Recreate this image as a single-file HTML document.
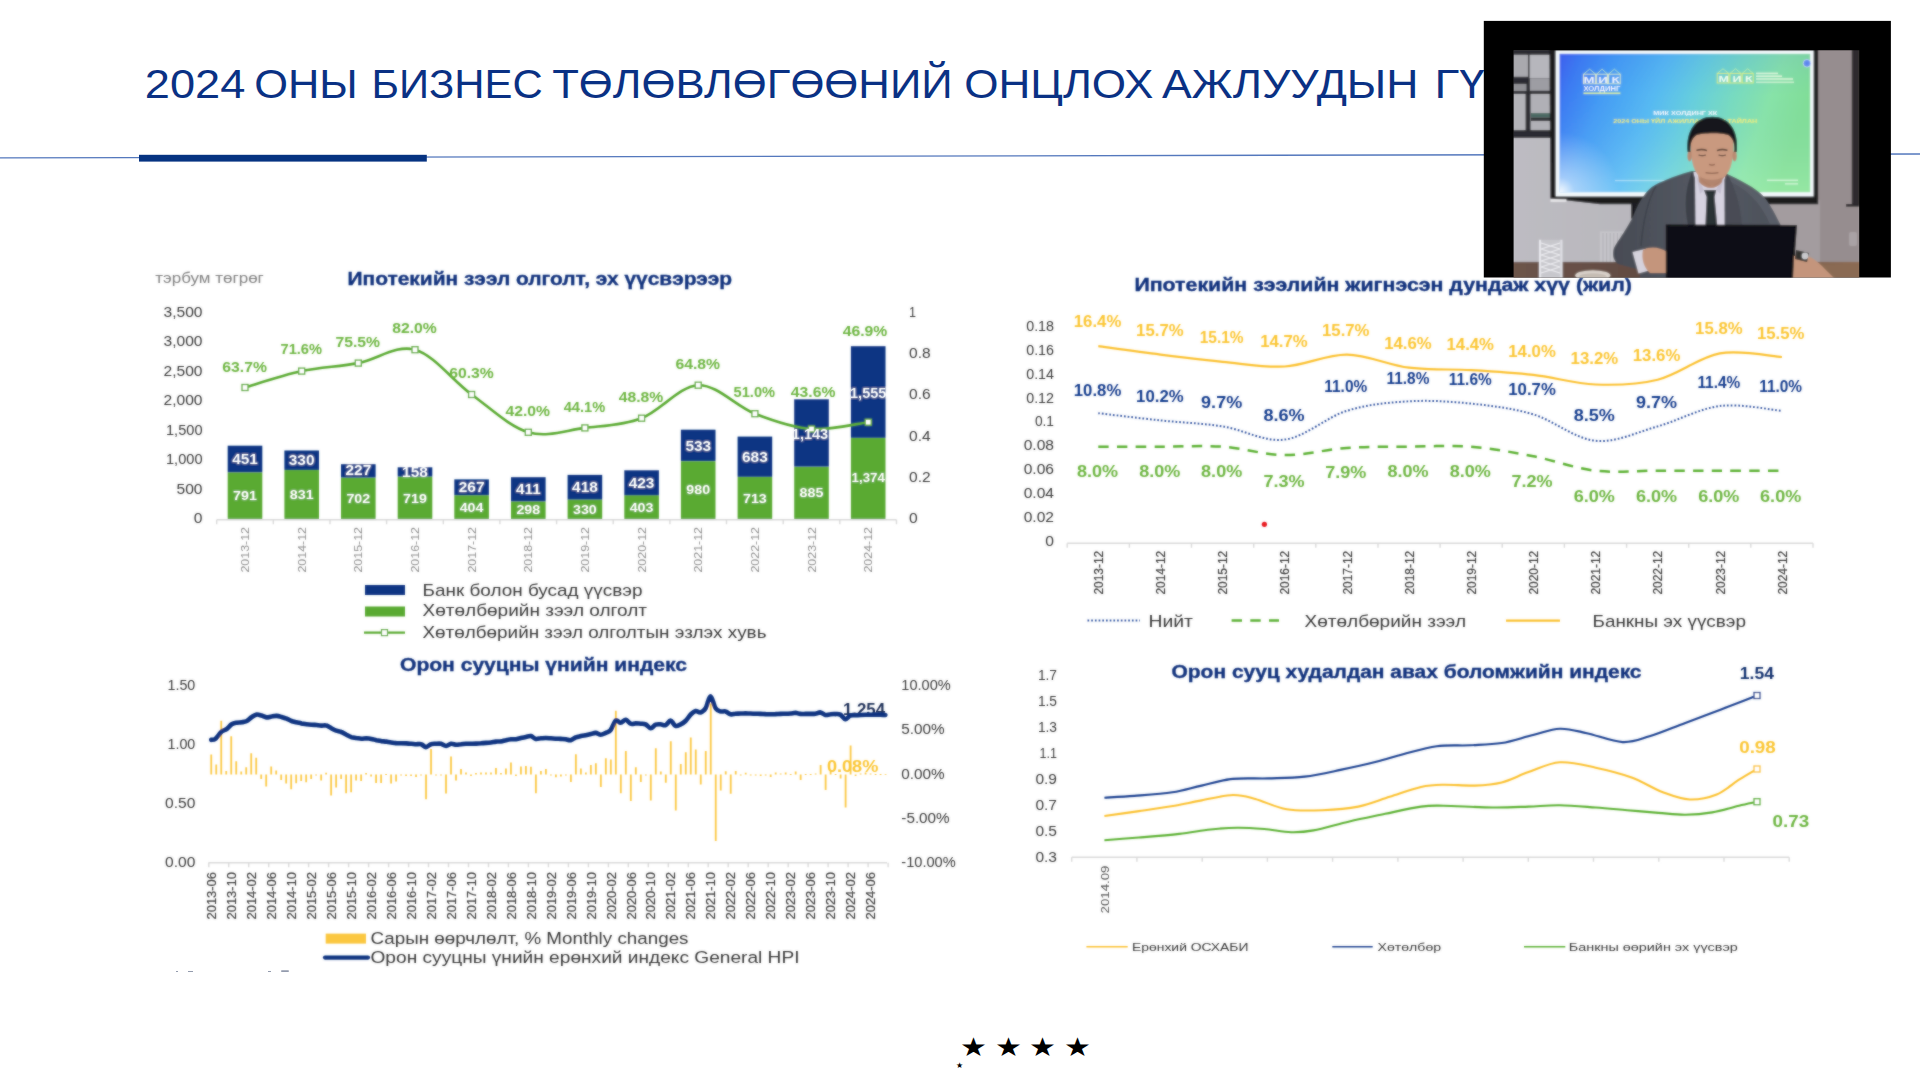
<!DOCTYPE html><html lang="mn"><head><meta charset="utf-8"><title>2024 оны бизнес төлөвлөгөө</title>
<style>html,body{margin:0;padding:0;background:#fff;overflow:hidden}svg{display:block}text{font-family:"Liberation Sans",sans-serif}</style></head><body>
<svg width="1920" height="1080" viewBox="0 0 1920 1080">
<rect width="1920" height="1080" fill="#fff"/>
<text y="97.5" font-size="40.5" fill="#0a3184"><tspan x="144.8" textLength="100.5" lengthAdjust="spacingAndGlyphs">2024</tspan> <tspan x="254.2" textLength="103.5" lengthAdjust="spacingAndGlyphs">ОНЫ</tspan> <tspan x="371.5" textLength="171.2" lengthAdjust="spacingAndGlyphs">БИЗНЕС</tspan> <tspan x="552.2" textLength="400.5" lengthAdjust="spacingAndGlyphs">ТӨЛӨВЛӨГӨӨНИЙ</tspan> <tspan x="964.3" textLength="189.2" lengthAdjust="spacingAndGlyphs">ОНЦЛОХ</tspan> <tspan x="1161.9" textLength="256.6" lengthAdjust="spacingAndGlyphs">АЖЛУУДЫН</tspan> <tspan x="1434.5" textLength="264.0" lengthAdjust="spacingAndGlyphs">ГҮЙЦЭТГЭЛ</tspan></text>
<path d="M0 157.9 L1920 154" stroke="#5478bd" stroke-width="1.4" fill="none"/>
<rect x="139" y="154.8" width="287.8" height="6.8" fill="#063381"/>
<text x="960.1" y="1056.3" font-size="26.4" fill="#000" text-anchor="start" font-family='"DejaVu Sans", sans-serif' textLength="26.6" lengthAdjust="spacingAndGlyphs" >★</text>
<text x="995.1" y="1056.3" font-size="26.4" fill="#000" text-anchor="start" font-family='"DejaVu Sans", sans-serif' textLength="26.6" lengthAdjust="spacingAndGlyphs" >★</text>
<text x="1029.4" y="1056.3" font-size="26.4" fill="#000" text-anchor="start" font-family='"DejaVu Sans", sans-serif' textLength="26.6" lengthAdjust="spacingAndGlyphs" >★</text>
<text x="1064.4" y="1056.3" font-size="26.4" fill="#000" text-anchor="start" font-family='"DejaVu Sans", sans-serif' textLength="26.6" lengthAdjust="spacingAndGlyphs" >★</text>
<text x="959.7" y="1068.2" font-size="7.6" fill="#000" text-anchor="middle" font-family='"DejaVu Sans", sans-serif' >★</text>
<g fill="#3b4a6b" opacity="0.55"><rect x="176" y="971" width="2" height="1"/><rect x="188" y="971" width="5" height="1"/><rect x="268" y="971" width="3" height="1"/><rect x="281" y="970.2" width="8" height="1.8" rx="0.9"/></g>
<defs><filter id="soft" filterUnits="userSpaceOnUse" x="0" y="240" width="1920" height="760"><feGaussianBlur stdDeviation="0.9" result="b"/><feComposite in="b" in2="SourceGraphic" operator="arithmetic" k1="0" k2="0.55" k3="0.45" k4="0"/></filter></defs><g filter="url(#soft)">
<text x="155.3" y="282.9" font-size="14.5" fill="#7f7f7f" text-anchor="start" textLength="108.5" lengthAdjust="spacingAndGlyphs" >тэрбум төгрөг</text>
<text x="347.6" y="284.6" font-size="17.6" fill="#10307c" text-anchor="start" font-weight="bold" font-family='"DejaVu Sans", "Liberation Sans", sans-serif' textLength="384.5" lengthAdjust="spacingAndGlyphs" stroke="#10307c" stroke-width="0.35">Ипотекийн зээл олголт, эх үүсвэрээр</text>
<text x="193.8" y="523.2" font-size="13.9" fill="#363636" text-anchor="start" textLength="8.7" lengthAdjust="spacingAndGlyphs" >0</text>
<text x="176.5" y="493.7" font-size="13.9" fill="#363636" text-anchor="start" textLength="26.0" lengthAdjust="spacingAndGlyphs" >500</text>
<text x="166.0" y="464.2" font-size="13.9" fill="#363636" text-anchor="start" textLength="36.5" lengthAdjust="spacingAndGlyphs" >1,000</text>
<text x="166.0" y="434.7" font-size="13.9" fill="#363636" text-anchor="start" textLength="36.5" lengthAdjust="spacingAndGlyphs" >1,500</text>
<text x="163.5" y="405.2" font-size="13.9" fill="#363636" text-anchor="start" textLength="39.0" lengthAdjust="spacingAndGlyphs" >2,000</text>
<text x="163.5" y="375.7" font-size="13.9" fill="#363636" text-anchor="start" textLength="39.0" lengthAdjust="spacingAndGlyphs" >2,500</text>
<text x="163.5" y="346.2" font-size="13.9" fill="#363636" text-anchor="start" textLength="39.0" lengthAdjust="spacingAndGlyphs" >3,000</text>
<text x="163.5" y="316.7" font-size="13.9" fill="#363636" text-anchor="start" textLength="39.0" lengthAdjust="spacingAndGlyphs" >3,500</text>
<text x="909.0" y="523.2" font-size="13.9" fill="#363636" text-anchor="start" textLength="8.7" lengthAdjust="spacingAndGlyphs" >0</text>
<text x="909.0" y="481.9" font-size="13.9" fill="#363636" text-anchor="start" textLength="21.6" lengthAdjust="spacingAndGlyphs" >0.2</text>
<text x="909.0" y="440.6" font-size="13.9" fill="#363636" text-anchor="start" textLength="21.6" lengthAdjust="spacingAndGlyphs" >0.4</text>
<text x="909.0" y="399.3" font-size="13.9" fill="#363636" text-anchor="start" textLength="21.6" lengthAdjust="spacingAndGlyphs" >0.6</text>
<text x="909.0" y="358.0" font-size="13.9" fill="#363636" text-anchor="start" textLength="21.6" lengthAdjust="spacingAndGlyphs" >0.8</text>
<text x="909.0" y="316.7" font-size="13.9" fill="#363636" text-anchor="start" textLength="7.0" lengthAdjust="spacingAndGlyphs" >1</text>
<path d="M216.7 519.8H896.5" stroke="#d9d9d9" stroke-width="1.6"/>
<path d="M216.7 519.8v4.5M273.3 519.8v4.5M330.0 519.8v4.5M386.6 519.8v4.5M443.3 519.8v4.5M499.9 519.8v4.5M556.6 519.8v4.5M613.2 519.8v4.5M669.9 519.8v4.5M726.5 519.8v4.5M783.2 519.8v4.5M839.8 519.8v4.5M896.5 519.8v4.5" stroke="#d9d9d9" stroke-width="1.4" fill="none"/>
<rect x="227.7" y="472.3" width="34.6" height="46.7" fill="#5aaa32"/>
<rect x="227.7" y="445.7" width="34.6" height="26.6" fill="#0b3583"/>
<rect x="284.4" y="470.0" width="34.6" height="49.0" fill="#5aaa32"/>
<rect x="284.4" y="450.5" width="34.6" height="19.5" fill="#0b3583"/>
<rect x="341.0" y="477.6" width="34.6" height="41.4" fill="#5aaa32"/>
<rect x="341.0" y="464.2" width="34.6" height="13.4" fill="#0b3583"/>
<rect x="397.7" y="476.6" width="34.6" height="42.4" fill="#5aaa32"/>
<rect x="397.7" y="467.3" width="34.6" height="9.3" fill="#0b3583"/>
<rect x="454.3" y="495.2" width="34.6" height="23.8" fill="#5aaa32"/>
<rect x="454.3" y="479.4" width="34.6" height="15.8" fill="#0b3583"/>
<rect x="511.0" y="501.4" width="34.6" height="17.6" fill="#5aaa32"/>
<rect x="511.0" y="477.2" width="34.6" height="24.2" fill="#0b3583"/>
<rect x="567.6" y="499.5" width="34.6" height="19.5" fill="#5aaa32"/>
<rect x="567.6" y="474.9" width="34.6" height="24.7" fill="#0b3583"/>
<rect x="624.3" y="495.2" width="34.6" height="23.8" fill="#5aaa32"/>
<rect x="624.3" y="470.3" width="34.6" height="25.0" fill="#0b3583"/>
<rect x="680.9" y="461.2" width="34.6" height="57.8" fill="#5aaa32"/>
<rect x="680.9" y="429.7" width="34.6" height="31.4" fill="#0b3583"/>
<rect x="737.6" y="476.9" width="34.6" height="42.1" fill="#5aaa32"/>
<rect x="737.6" y="436.6" width="34.6" height="40.3" fill="#0b3583"/>
<rect x="794.2" y="466.8" width="34.6" height="52.2" fill="#5aaa32"/>
<rect x="794.2" y="399.3" width="34.6" height="67.4" fill="#0b3583"/>
<rect x="850.9" y="437.9" width="34.6" height="81.1" fill="#5aaa32"/>
<rect x="850.9" y="346.2" width="34.6" height="91.7" fill="#0b3583"/>
<path d="M245.0 387.5C254.5 384.7 282.8 375.2 301.7 371.1C320.6 367.1 339.4 366.7 358.3 363.1C377.2 359.5 396.1 344.4 415.0 349.7C433.9 354.9 452.7 380.7 471.6 394.5C490.5 408.2 509.4 426.7 528.3 432.3C547.2 437.8 566.0 430.3 584.9 427.9C603.8 425.6 622.7 425.4 641.6 418.2C660.5 411.1 679.3 385.9 698.2 385.2C717.1 384.4 736.0 406.4 754.9 413.7C773.8 421.0 792.6 427.6 811.5 429.0C830.4 430.4 858.7 423.3 868.2 422.2" stroke="#5aaa32" stroke-width="2.6" fill="none" stroke-linecap="round"/>
<rect x="242.0" y="384.5" width="6" height="6" fill="#fff" stroke="#5aaa32" stroke-width="1.3"/>
<rect x="298.7" y="368.1" width="6" height="6" fill="#fff" stroke="#5aaa32" stroke-width="1.3"/>
<rect x="355.3" y="360.1" width="6" height="6" fill="#fff" stroke="#5aaa32" stroke-width="1.3"/>
<rect x="412.0" y="346.7" width="6" height="6" fill="#fff" stroke="#5aaa32" stroke-width="1.3"/>
<rect x="468.6" y="391.5" width="6" height="6" fill="#fff" stroke="#5aaa32" stroke-width="1.3"/>
<rect x="525.3" y="429.3" width="6" height="6" fill="#fff" stroke="#5aaa32" stroke-width="1.3"/>
<rect x="581.9" y="424.9" width="6" height="6" fill="#fff" stroke="#5aaa32" stroke-width="1.3"/>
<rect x="638.6" y="415.2" width="6" height="6" fill="#fff" stroke="#5aaa32" stroke-width="1.3"/>
<rect x="695.2" y="382.2" width="6" height="6" fill="#fff" stroke="#5aaa32" stroke-width="1.3"/>
<rect x="751.9" y="410.7" width="6" height="6" fill="#fff" stroke="#5aaa32" stroke-width="1.3"/>
<rect x="808.5" y="426.0" width="6" height="6" fill="#fff" stroke="#5aaa32" stroke-width="1.3"/>
<rect x="865.2" y="419.2" width="6" height="6" fill="#fff" stroke="#5aaa32" stroke-width="1.3"/>
<text x="233.1" y="499.9" font-size="12.3" fill="#fff" text-anchor="start" font-weight="bold" textLength="23.8" lengthAdjust="spacingAndGlyphs" >791</text>
<text x="232.2" y="464.2" font-size="14" fill="#fff" text-anchor="start" font-weight="bold" textLength="25.7" lengthAdjust="spacingAndGlyphs" >451</text>
<text x="222.3" y="371.7" font-size="14.3" fill="#6cb53f" text-anchor="start" font-weight="bold" textLength="44.6" lengthAdjust="spacingAndGlyphs" >63.7%</text>
<text transform="translate(249.0 549.8) rotate(-90)" x="-22.8" y="0" font-size="11.3" fill="#8c8c8c" textLength="45.6" lengthAdjust="spacingAndGlyphs" >2013-12</text>
<text x="289.8" y="498.6" font-size="12.3" fill="#fff" text-anchor="start" font-weight="bold" textLength="23.8" lengthAdjust="spacingAndGlyphs" >831</text>
<text x="288.8" y="465.4" font-size="14" fill="#fff" text-anchor="start" font-weight="bold" textLength="25.7" lengthAdjust="spacingAndGlyphs" >330</text>
<text x="280.5" y="354.4" font-size="14.3" fill="#6cb53f" text-anchor="start" font-weight="bold" textLength="41.5" lengthAdjust="spacingAndGlyphs" >71.6%</text>
<text transform="translate(305.7 549.8) rotate(-90)" x="-22.8" y="0" font-size="11.3" fill="#8c8c8c" textLength="45.6" lengthAdjust="spacingAndGlyphs" >2014-12</text>
<text x="346.4" y="502.9" font-size="12.3" fill="#fff" text-anchor="start" font-weight="bold" textLength="23.8" lengthAdjust="spacingAndGlyphs" >702</text>
<text x="345.5" y="475.4" font-size="14" fill="#fff" text-anchor="start" font-weight="bold" textLength="25.7" lengthAdjust="spacingAndGlyphs" >227</text>
<text x="335.5" y="347.1" font-size="14.3" fill="#6cb53f" text-anchor="start" font-weight="bold" textLength="44.6" lengthAdjust="spacingAndGlyphs" >75.5%</text>
<text transform="translate(362.3 549.8) rotate(-90)" x="-22.8" y="0" font-size="11.3" fill="#8c8c8c" textLength="45.6" lengthAdjust="spacingAndGlyphs" >2015-12</text>
<text x="403.1" y="502.5" font-size="12.3" fill="#fff" text-anchor="start" font-weight="bold" textLength="23.8" lengthAdjust="spacingAndGlyphs" >719</text>
<text x="402.1" y="476.7" font-size="14" fill="#fff" text-anchor="start" font-weight="bold" textLength="25.7" lengthAdjust="spacingAndGlyphs" >158</text>
<text x="392.2" y="332.8" font-size="14.3" fill="#6cb53f" text-anchor="start" font-weight="bold" textLength="44.6" lengthAdjust="spacingAndGlyphs" >82.0%</text>
<text transform="translate(419.0 549.8) rotate(-90)" x="-22.8" y="0" font-size="11.3" fill="#8c8c8c" textLength="45.6" lengthAdjust="spacingAndGlyphs" >2016-12</text>
<text x="459.7" y="511.5" font-size="12.3" fill="#fff" text-anchor="start" font-weight="bold" textLength="23.8" lengthAdjust="spacingAndGlyphs" >404</text>
<text x="458.8" y="492.3" font-size="14" fill="#fff" text-anchor="start" font-weight="bold" textLength="25.7" lengthAdjust="spacingAndGlyphs" >267</text>
<text x="449.2" y="377.8" font-size="14.3" fill="#6cb53f" text-anchor="start" font-weight="bold" textLength="44.6" lengthAdjust="spacingAndGlyphs" >60.3%</text>
<text transform="translate(475.6 549.8) rotate(-90)" x="-22.8" y="0" font-size="11.3" fill="#8c8c8c" textLength="45.6" lengthAdjust="spacingAndGlyphs" >2017-12</text>
<text x="516.4" y="513.7" font-size="12.3" fill="#fff" text-anchor="start" font-weight="bold" textLength="23.8" lengthAdjust="spacingAndGlyphs" >298</text>
<text x="515.9" y="493.6" font-size="14" fill="#fff" text-anchor="start" font-weight="bold" textLength="24.8" lengthAdjust="spacingAndGlyphs" >411</text>
<text x="505.5" y="416.3" font-size="14.3" fill="#6cb53f" text-anchor="start" font-weight="bold" textLength="44.6" lengthAdjust="spacingAndGlyphs" >42.0%</text>
<text transform="translate(532.3 549.8) rotate(-90)" x="-22.8" y="0" font-size="11.3" fill="#8c8c8c" textLength="45.6" lengthAdjust="spacingAndGlyphs" >2018-12</text>
<text x="573.0" y="513.7" font-size="12.3" fill="#fff" text-anchor="start" font-weight="bold" textLength="23.8" lengthAdjust="spacingAndGlyphs" >330</text>
<text x="572.1" y="492.3" font-size="14" fill="#fff" text-anchor="start" font-weight="bold" textLength="25.7" lengthAdjust="spacingAndGlyphs" >418</text>
<text x="563.7" y="411.9" font-size="14.3" fill="#6cb53f" text-anchor="start" font-weight="bold" textLength="41.5" lengthAdjust="spacingAndGlyphs" >44.1%</text>
<text transform="translate(588.9 549.8) rotate(-90)" x="-22.8" y="0" font-size="11.3" fill="#8c8c8c" textLength="45.6" lengthAdjust="spacingAndGlyphs" >2019-12</text>
<text x="629.7" y="511.5" font-size="12.3" fill="#fff" text-anchor="start" font-weight="bold" textLength="23.8" lengthAdjust="spacingAndGlyphs" >403</text>
<text x="628.7" y="488.4" font-size="14" fill="#fff" text-anchor="start" font-weight="bold" textLength="25.7" lengthAdjust="spacingAndGlyphs" >423</text>
<text x="618.7" y="402.0" font-size="14.3" fill="#6cb53f" text-anchor="start" font-weight="bold" textLength="44.6" lengthAdjust="spacingAndGlyphs" >48.8%</text>
<text transform="translate(645.6 549.8) rotate(-90)" x="-22.8" y="0" font-size="11.3" fill="#8c8c8c" textLength="45.6" lengthAdjust="spacingAndGlyphs" >2020-12</text>
<text x="686.3" y="493.8" font-size="12.3" fill="#fff" text-anchor="start" font-weight="bold" textLength="23.8" lengthAdjust="spacingAndGlyphs" >980</text>
<text x="685.4" y="450.8" font-size="14" fill="#fff" text-anchor="start" font-weight="bold" textLength="25.7" lengthAdjust="spacingAndGlyphs" >533</text>
<text x="675.4" y="368.7" font-size="14.3" fill="#6cb53f" text-anchor="start" font-weight="bold" textLength="44.6" lengthAdjust="spacingAndGlyphs" >64.8%</text>
<text transform="translate(702.2 549.8) rotate(-90)" x="-22.8" y="0" font-size="11.3" fill="#8c8c8c" textLength="45.6" lengthAdjust="spacingAndGlyphs" >2021-12</text>
<text x="743.0" y="502.5" font-size="12.3" fill="#fff" text-anchor="start" font-weight="bold" textLength="23.8" lengthAdjust="spacingAndGlyphs" >713</text>
<text x="742.0" y="462.4" font-size="14" fill="#fff" text-anchor="start" font-weight="bold" textLength="25.7" lengthAdjust="spacingAndGlyphs" >683</text>
<text x="733.6" y="397.2" font-size="14.3" fill="#6cb53f" text-anchor="start" font-weight="bold" textLength="41.5" lengthAdjust="spacingAndGlyphs" >51.0%</text>
<text transform="translate(758.9 549.8) rotate(-90)" x="-22.8" y="0" font-size="11.3" fill="#8c8c8c" textLength="45.6" lengthAdjust="spacingAndGlyphs" >2022-12</text>
<text x="799.6" y="496.8" font-size="12.3" fill="#fff" text-anchor="start" font-weight="bold" textLength="23.8" lengthAdjust="spacingAndGlyphs" >885</text>
<text x="791.8" y="438.6" font-size="14" fill="#fff" text-anchor="start" font-weight="bold" textLength="36.4" lengthAdjust="spacingAndGlyphs" >1,143</text>
<text x="790.8" y="397.2" font-size="14.3" fill="#6cb53f" text-anchor="start" font-weight="bold" textLength="44.6" lengthAdjust="spacingAndGlyphs" >43.6%</text>
<text transform="translate(815.5 549.8) rotate(-90)" x="-22.8" y="0" font-size="11.3" fill="#8c8c8c" textLength="45.6" lengthAdjust="spacingAndGlyphs" >2023-12</text>
<text x="851.6" y="482.1" font-size="12.3" fill="#fff" text-anchor="start" font-weight="bold" textLength="33.2" lengthAdjust="spacingAndGlyphs" >1,374</text>
<text x="850.0" y="397.6" font-size="14" fill="#fff" text-anchor="start" font-weight="bold" textLength="36.4" lengthAdjust="spacingAndGlyphs" >1,555</text>
<text x="842.7" y="336.3" font-size="14.3" fill="#6cb53f" text-anchor="start" font-weight="bold" textLength="44.6" lengthAdjust="spacingAndGlyphs" >46.9%</text>
<text transform="translate(872.2 549.8) rotate(-90)" x="-22.8" y="0" font-size="11.3" fill="#8c8c8c" textLength="45.6" lengthAdjust="spacingAndGlyphs" >2024-12</text>
<rect x="365" y="585" width="40" height="10" fill="#0b3583"/>
<rect x="365" y="606.5" width="40" height="10" fill="#5aaa32"/>
<path d="M364 632.6H405" stroke="#5aaa32" stroke-width="2.4"/><rect x="381.5" y="629.6" width="6" height="6" fill="#fff" stroke="#5aaa32" stroke-width="1.2"/>
<text x="422.5" y="595.8" font-size="16.6" fill="#363636" text-anchor="start" textLength="220.0" lengthAdjust="spacingAndGlyphs" >Банк болон бусад үүсвэр</text>
<text x="422.5" y="616.4" font-size="16.6" fill="#363636" text-anchor="start" textLength="224.5" lengthAdjust="spacingAndGlyphs" >Хөтөлбөрийн зээл олголт</text>
<text x="422.5" y="638.0" font-size="16.6" fill="#363636" text-anchor="start" textLength="344.0" lengthAdjust="spacingAndGlyphs" >Хөтөлбөрийн зээл олголтын эзлэх хувь</text>
<text x="1134.4" y="290.6" font-size="17.6" fill="#10307c" text-anchor="start" font-weight="bold" font-family='"DejaVu Sans", "Liberation Sans", sans-serif' textLength="497.5" lengthAdjust="spacingAndGlyphs" stroke="#10307c" stroke-width="0.35">Ипотекийн зээлийн жигнэсэн дундаж хүү (жил)</text>
<text x="1045.3" y="546.1" font-size="13.9" fill="#363636" text-anchor="start" textLength="8.7" lengthAdjust="spacingAndGlyphs" >0</text>
<text x="1023.7" y="522.2" font-size="13.9" fill="#363636" text-anchor="start" textLength="30.3" lengthAdjust="spacingAndGlyphs" >0.02</text>
<text x="1023.7" y="498.2" font-size="13.9" fill="#363636" text-anchor="start" textLength="30.3" lengthAdjust="spacingAndGlyphs" >0.04</text>
<text x="1023.7" y="474.3" font-size="13.9" fill="#363636" text-anchor="start" textLength="30.3" lengthAdjust="spacingAndGlyphs" >0.06</text>
<text x="1023.7" y="450.3" font-size="13.9" fill="#363636" text-anchor="start" textLength="30.3" lengthAdjust="spacingAndGlyphs" >0.08</text>
<text x="1034.9" y="426.4" font-size="13.9" fill="#363636" text-anchor="start" textLength="19.1" lengthAdjust="spacingAndGlyphs" >0.1</text>
<text x="1026.2" y="402.5" font-size="13.9" fill="#363636" text-anchor="start" textLength="27.8" lengthAdjust="spacingAndGlyphs" >0.12</text>
<text x="1026.2" y="378.5" font-size="13.9" fill="#363636" text-anchor="start" textLength="27.8" lengthAdjust="spacingAndGlyphs" >0.14</text>
<text x="1026.2" y="354.6" font-size="13.9" fill="#363636" text-anchor="start" textLength="27.8" lengthAdjust="spacingAndGlyphs" >0.16</text>
<text x="1026.2" y="330.6" font-size="13.9" fill="#363636" text-anchor="start" textLength="27.8" lengthAdjust="spacingAndGlyphs" >0.18</text>
<path d="M1067.2 543.3H1813.0" stroke="#d9d9d9" stroke-width="1.6"/>
<path d="M1067.2 543.3v4.5M1129.4 543.3v4.5M1191.5 543.3v4.5M1253.7 543.3v4.5M1315.8 543.3v4.5M1378.0 543.3v4.5M1440.1 543.3v4.5M1502.2 543.3v4.5M1564.4 543.3v4.5M1626.6 543.3v4.5M1688.7 543.3v4.5M1750.8 543.3v4.5M1813.0 543.3v4.5" stroke="#d9d9d9" stroke-width="1.4" fill="none"/>
<path d="M1098.3 346.2C1108.6 347.6 1139.7 352.0 1160.4 354.6C1181.1 357.2 1201.9 359.8 1222.6 361.8C1243.3 363.7 1264.0 367.7 1284.7 366.5C1305.4 365.3 1326.2 354.4 1346.9 354.6C1367.6 354.8 1388.3 365.1 1409.0 367.7C1429.7 370.3 1450.5 368.9 1471.2 370.1C1491.9 371.3 1512.6 372.5 1533.3 374.9C1554.0 377.3 1574.8 383.7 1595.5 384.5C1616.2 385.3 1636.9 384.9 1657.6 379.7C1678.3 374.5 1699.1 357.2 1719.8 353.4C1740.5 349.6 1771.6 356.4 1781.9 357.0" stroke="#fbc02d" stroke-width="2.2" fill="none"/>
<path d="M1098.3 413.2C1108.6 414.4 1139.7 418.2 1160.4 420.4C1181.1 422.6 1201.9 423.2 1222.6 426.4C1243.3 429.6 1264.0 442.2 1284.7 439.6C1305.4 437.0 1326.2 417.2 1346.9 410.8C1367.6 404.4 1388.3 402.5 1409.0 401.3C1429.7 400.1 1450.5 401.5 1471.2 403.6C1491.9 405.8 1512.6 408.2 1533.3 414.4C1554.0 420.6 1574.8 438.8 1595.5 440.8C1616.2 442.8 1636.9 432.2 1657.6 426.4C1678.3 420.6 1699.1 408.6 1719.8 406.0C1740.5 403.4 1771.6 410.0 1781.9 410.8" stroke="#2c4f9e" stroke-width="2.0" fill="none" stroke-dasharray="1.7 2.0"/>
<path d="M1098.3 446.7C1108.6 446.7 1139.7 446.7 1160.4 446.7C1181.1 446.7 1201.9 445.3 1222.6 446.7C1243.3 448.1 1264.0 454.9 1284.7 455.1C1305.4 455.3 1326.2 449.3 1346.9 447.9C1367.6 446.5 1388.3 446.9 1409.0 446.7C1429.7 446.5 1450.5 445.1 1471.2 446.7C1491.9 448.3 1512.6 452.3 1533.3 456.3C1554.0 460.3 1574.8 468.3 1595.5 470.7C1616.2 473.1 1636.9 470.7 1657.6 470.7C1678.3 470.7 1699.1 470.7 1719.8 470.7C1740.5 470.7 1771.6 470.7 1781.9 470.7" stroke="#5ab031" stroke-width="2.5" fill="none" stroke-dasharray="10.4 8.3"/>
<text x="1073.8" y="327.3" font-size="16.4" fill="#fbc530" text-anchor="start" font-weight="bold" textLength="47.5" lengthAdjust="spacingAndGlyphs" >16.4%</text>
<text x="1073.8" y="395.8" font-size="16.4" fill="#163a8c" text-anchor="start" font-weight="bold" textLength="47.5" lengthAdjust="spacingAndGlyphs" >10.8%</text>
<text x="1077.0" y="476.9" font-size="16.4" fill="#6cb53f" text-anchor="start" font-weight="bold" textLength="41.1" lengthAdjust="spacingAndGlyphs" >8.0%</text>
<text transform="translate(1103.0 572.7) rotate(-90)" x="-21.9" y="0" font-size="13.2" fill="#363636" textLength="43.8" lengthAdjust="spacingAndGlyphs" stroke="#404040" stroke-width="0.2">2013-12</text>
<text x="1136.1" y="336.2" font-size="16.4" fill="#fbc530" text-anchor="start" font-weight="bold" textLength="47.5" lengthAdjust="spacingAndGlyphs" >15.7%</text>
<text x="1136.1" y="402.1" font-size="16.4" fill="#163a8c" text-anchor="start" font-weight="bold" textLength="47.5" lengthAdjust="spacingAndGlyphs" >10.2%</text>
<text x="1139.3" y="476.9" font-size="16.4" fill="#6cb53f" text-anchor="start" font-weight="bold" textLength="41.1" lengthAdjust="spacingAndGlyphs" >8.0%</text>
<text transform="translate(1165.1 572.7) rotate(-90)" x="-21.9" y="0" font-size="13.2" fill="#363636" textLength="43.8" lengthAdjust="spacingAndGlyphs" stroke="#404040" stroke-width="0.2">2014-12</text>
<text x="1199.7" y="343.4" font-size="16.4" fill="#fbc530" text-anchor="start" font-weight="bold" textLength="43.9" lengthAdjust="spacingAndGlyphs" >15.1%</text>
<text x="1201.1" y="408.3" font-size="16.4" fill="#163a8c" text-anchor="start" font-weight="bold" textLength="41.1" lengthAdjust="spacingAndGlyphs" >9.7%</text>
<text x="1201.1" y="476.9" font-size="16.4" fill="#6cb53f" text-anchor="start" font-weight="bold" textLength="41.1" lengthAdjust="spacingAndGlyphs" >8.0%</text>
<text transform="translate(1227.3 572.7) rotate(-90)" x="-21.9" y="0" font-size="13.2" fill="#363636" textLength="43.8" lengthAdjust="spacingAndGlyphs" stroke="#404040" stroke-width="0.2">2015-12</text>
<text x="1260.2" y="347.4" font-size="16.4" fill="#fbc530" text-anchor="start" font-weight="bold" textLength="47.5" lengthAdjust="spacingAndGlyphs" >14.7%</text>
<text x="1263.4" y="421.3" font-size="16.4" fill="#163a8c" text-anchor="start" font-weight="bold" textLength="41.1" lengthAdjust="spacingAndGlyphs" >8.6%</text>
<text x="1263.4" y="487.2" font-size="16.4" fill="#6cb53f" text-anchor="start" font-weight="bold" textLength="41.1" lengthAdjust="spacingAndGlyphs" >7.3%</text>
<text transform="translate(1289.4 572.7) rotate(-90)" x="-21.9" y="0" font-size="13.2" fill="#363636" textLength="43.8" lengthAdjust="spacingAndGlyphs" stroke="#404040" stroke-width="0.2">2016-12</text>
<text x="1322.0" y="336.2" font-size="16.4" fill="#fbc530" text-anchor="start" font-weight="bold" textLength="47.5" lengthAdjust="spacingAndGlyphs" >15.7%</text>
<text x="1324.3" y="392.2" font-size="16.4" fill="#163a8c" text-anchor="start" font-weight="bold" textLength="42.9" lengthAdjust="spacingAndGlyphs" >11.0%</text>
<text x="1325.2" y="478.2" font-size="16.4" fill="#6cb53f" text-anchor="start" font-weight="bold" textLength="41.1" lengthAdjust="spacingAndGlyphs" >7.9%</text>
<text transform="translate(1351.6 572.7) rotate(-90)" x="-21.9" y="0" font-size="13.2" fill="#363636" textLength="43.8" lengthAdjust="spacingAndGlyphs" stroke="#404040" stroke-width="0.2">2017-12</text>
<text x="1384.2" y="349.2" font-size="16.4" fill="#fbc530" text-anchor="start" font-weight="bold" textLength="47.5" lengthAdjust="spacingAndGlyphs" >14.6%</text>
<text x="1386.5" y="383.7" font-size="16.4" fill="#163a8c" text-anchor="start" font-weight="bold" textLength="42.9" lengthAdjust="spacingAndGlyphs" >11.8%</text>
<text x="1387.4" y="476.9" font-size="16.4" fill="#6cb53f" text-anchor="start" font-weight="bold" textLength="41.1" lengthAdjust="spacingAndGlyphs" >8.0%</text>
<text transform="translate(1413.7 572.7) rotate(-90)" x="-21.9" y="0" font-size="13.2" fill="#363636" textLength="43.8" lengthAdjust="spacingAndGlyphs" stroke="#404040" stroke-width="0.2">2018-12</text>
<text x="1446.5" y="350.1" font-size="16.4" fill="#fbc530" text-anchor="start" font-weight="bold" textLength="47.5" lengthAdjust="spacingAndGlyphs" >14.4%</text>
<text x="1448.8" y="385.0" font-size="16.4" fill="#163a8c" text-anchor="start" font-weight="bold" textLength="42.9" lengthAdjust="spacingAndGlyphs" >11.6%</text>
<text x="1449.7" y="476.9" font-size="16.4" fill="#6cb53f" text-anchor="start" font-weight="bold" textLength="41.1" lengthAdjust="spacingAndGlyphs" >8.0%</text>
<text transform="translate(1475.9 572.7) rotate(-90)" x="-21.9" y="0" font-size="13.2" fill="#363636" textLength="43.8" lengthAdjust="spacingAndGlyphs" stroke="#404040" stroke-width="0.2">2019-12</text>
<text x="1508.3" y="356.8" font-size="16.4" fill="#fbc530" text-anchor="start" font-weight="bold" textLength="47.5" lengthAdjust="spacingAndGlyphs" >14.0%</text>
<text x="1508.3" y="395.3" font-size="16.4" fill="#163a8c" text-anchor="start" font-weight="bold" textLength="47.5" lengthAdjust="spacingAndGlyphs" >10.7%</text>
<text x="1511.5" y="487.2" font-size="16.4" fill="#6cb53f" text-anchor="start" font-weight="bold" textLength="41.1" lengthAdjust="spacingAndGlyphs" >7.2%</text>
<text transform="translate(1538.0 572.7) rotate(-90)" x="-21.9" y="0" font-size="13.2" fill="#363636" textLength="43.8" lengthAdjust="spacingAndGlyphs" stroke="#404040" stroke-width="0.2">2020-12</text>
<text x="1570.6" y="364.4" font-size="16.4" fill="#fbc530" text-anchor="start" font-weight="bold" textLength="47.5" lengthAdjust="spacingAndGlyphs" >13.2%</text>
<text x="1573.8" y="421.3" font-size="16.4" fill="#163a8c" text-anchor="start" font-weight="bold" textLength="41.1" lengthAdjust="spacingAndGlyphs" >8.5%</text>
<text x="1573.8" y="501.5" font-size="16.4" fill="#6cb53f" text-anchor="start" font-weight="bold" textLength="41.1" lengthAdjust="spacingAndGlyphs" >6.0%</text>
<text transform="translate(1600.2 572.7) rotate(-90)" x="-21.9" y="0" font-size="13.2" fill="#363636" textLength="43.8" lengthAdjust="spacingAndGlyphs" stroke="#404040" stroke-width="0.2">2021-12</text>
<text x="1632.8" y="360.9" font-size="16.4" fill="#fbc530" text-anchor="start" font-weight="bold" textLength="47.5" lengthAdjust="spacingAndGlyphs" >13.6%</text>
<text x="1636.0" y="408.3" font-size="16.4" fill="#163a8c" text-anchor="start" font-weight="bold" textLength="41.1" lengthAdjust="spacingAndGlyphs" >9.7%</text>
<text x="1636.0" y="501.5" font-size="16.4" fill="#6cb53f" text-anchor="start" font-weight="bold" textLength="41.1" lengthAdjust="spacingAndGlyphs" >6.0%</text>
<text transform="translate(1662.3 572.7) rotate(-90)" x="-21.9" y="0" font-size="13.2" fill="#363636" textLength="43.8" lengthAdjust="spacingAndGlyphs" stroke="#404040" stroke-width="0.2">2022-12</text>
<text x="1695.1" y="334.4" font-size="16.4" fill="#fbc530" text-anchor="start" font-weight="bold" textLength="47.5" lengthAdjust="spacingAndGlyphs" >15.8%</text>
<text x="1697.4" y="387.7" font-size="16.4" fill="#163a8c" text-anchor="start" font-weight="bold" textLength="42.9" lengthAdjust="spacingAndGlyphs" >11.4%</text>
<text x="1698.3" y="501.5" font-size="16.4" fill="#6cb53f" text-anchor="start" font-weight="bold" textLength="41.1" lengthAdjust="spacingAndGlyphs" >6.0%</text>
<text transform="translate(1724.5 572.7) rotate(-90)" x="-21.9" y="0" font-size="13.2" fill="#363636" textLength="43.8" lengthAdjust="spacingAndGlyphs" stroke="#404040" stroke-width="0.2">2023-12</text>
<text x="1756.9" y="338.5" font-size="16.4" fill="#fbc530" text-anchor="start" font-weight="bold" textLength="47.5" lengthAdjust="spacingAndGlyphs" >15.5%</text>
<text x="1759.2" y="392.2" font-size="16.4" fill="#163a8c" text-anchor="start" font-weight="bold" textLength="42.9" lengthAdjust="spacingAndGlyphs" >11.0%</text>
<text x="1760.1" y="501.5" font-size="16.4" fill="#6cb53f" text-anchor="start" font-weight="bold" textLength="41.1" lengthAdjust="spacingAndGlyphs" >6.0%</text>
<text transform="translate(1786.6 572.7) rotate(-90)" x="-21.9" y="0" font-size="13.2" fill="#363636" textLength="43.8" lengthAdjust="spacingAndGlyphs" stroke="#404040" stroke-width="0.2">2024-12</text>
<circle cx="1264.4" cy="524.3" r="2.6" fill="#e8121c"/>
<path d="M1087.5 620.6H1140" stroke="#2c4f9e" stroke-width="2.0" stroke-dasharray="1.7 2.0"/>
<path d="M1231.6 620.6H1279" stroke="#5ab031" stroke-width="2.5" stroke-dasharray="10.4 8.3"/>
<path d="M1506 620.6H1560" stroke="#fbc02d" stroke-width="2.2"/>
<text x="1148.5" y="626.6" font-size="16.2" fill="#363636" text-anchor="start" textLength="44.5" lengthAdjust="spacingAndGlyphs" >Нийт</text>
<text x="1304.5" y="626.6" font-size="16.2" fill="#363636" text-anchor="start" textLength="161.5" lengthAdjust="spacingAndGlyphs" >Хөтөлбөрийн зээл</text>
<text x="1592.5" y="626.6" font-size="16.2" fill="#363636" text-anchor="start" textLength="153.5" lengthAdjust="spacingAndGlyphs" >Банкны эх үүсвэр</text>
<text x="400.0" y="671.4" font-size="17.6" fill="#10307c" text-anchor="start" font-weight="bold" font-family='"DejaVu Sans", "Liberation Sans", sans-serif' textLength="287.0" lengthAdjust="spacingAndGlyphs" stroke="#10307c" stroke-width="0.35">Орон сууцны үнийн индекс</text>
<text x="165.0" y="867.3" font-size="13.9" fill="#363636" text-anchor="start" textLength="30.3" lengthAdjust="spacingAndGlyphs" >0.00</text>
<text x="165.0" y="808.2" font-size="13.9" fill="#363636" text-anchor="start" textLength="30.3" lengthAdjust="spacingAndGlyphs" >0.50</text>
<text x="167.5" y="749.0" font-size="13.9" fill="#363636" text-anchor="start" textLength="27.8" lengthAdjust="spacingAndGlyphs" >1.00</text>
<text x="167.5" y="689.9" font-size="13.9" fill="#363636" text-anchor="start" textLength="27.8" lengthAdjust="spacingAndGlyphs" >1.50</text>
<text x="901.3" y="867.3" font-size="13.9" fill="#363636" text-anchor="start" textLength="54.4" lengthAdjust="spacingAndGlyphs" >-10.00%</text>
<text x="901.3" y="823.0" font-size="13.9" fill="#363636" text-anchor="start" textLength="48.4" lengthAdjust="spacingAndGlyphs" >-5.00%</text>
<text x="901.3" y="778.6" font-size="13.9" fill="#363636" text-anchor="start" textLength="43.4" lengthAdjust="spacingAndGlyphs" >0.00%</text>
<text x="901.3" y="734.2" font-size="13.9" fill="#363636" text-anchor="start" textLength="43.4" lengthAdjust="spacingAndGlyphs" >5.00%</text>
<text x="901.3" y="689.9" font-size="13.9" fill="#363636" text-anchor="start" textLength="49.4" lengthAdjust="spacingAndGlyphs" >10.00%</text>
<path d="M208.4 862.8H887" stroke="#d9d9d9" stroke-width="1.6"/>
<path d="M208.8 862.8v4.5M228.7 862.8v4.5M248.7 862.8v4.5M268.7 862.8v4.5M288.7 862.8v4.5M308.6 862.8v4.5M328.6 862.8v4.5M348.6 862.8v4.5M368.6 862.8v4.5M388.6 862.8v4.5M408.6 862.8v4.5M428.5 862.8v4.5M448.5 862.8v4.5M468.5 862.8v4.5M488.5 862.8v4.5M508.4 862.8v4.5M528.4 862.8v4.5M548.4 862.8v4.5M568.4 862.8v4.5M588.4 862.8v4.5M608.4 862.8v4.5M628.3 862.8v4.5M648.3 862.8v4.5M668.3 862.8v4.5M688.3 862.8v4.5M708.2 862.8v4.5M728.2 862.8v4.5M748.2 862.8v4.5M768.2 862.8v4.5M788.2 862.8v4.5M808.1 862.8v4.5M828.1 862.8v4.5M848.1 862.8v4.5M868.1 862.8v4.5M888.1 862.8v4.5" stroke="#d9d9d9" stroke-width="1.4" fill="none"/>
<path d="M210.35 754.6h1.8v20.0h-1.8zM215.34 764.6h1.8v10.0h-1.8zM220.34 720.8h1.8v53.8h-1.8zM225.33 771.0h1.8v3.6h-1.8zM230.33 736.3h1.8v38.3h-1.8zM235.32 761.3h1.8v13.3h-1.8zM240.32 771.6h1.8v3.0h-1.8zM245.31 767.3h1.8v7.3h-1.8zM250.31 753.3h1.8v21.3h-1.8zM255.30 757.8h1.8v16.8h-1.8zM260.30 774.6h1.8v4.5h-1.8zM265.29 774.6h1.8v11.8h-1.8zM270.29 766.4h1.8v8.2h-1.8zM275.28 770.6h1.8v4.0h-1.8zM280.28 774.6h1.8v5.5h-1.8zM285.27 774.6h1.8v9.0h-1.8zM290.27 774.6h1.8v14.6h-1.8zM295.26 774.6h1.8v8.7h-1.8zM300.26 774.6h1.8v6.4h-1.8zM305.25 774.6h1.8v7.6h-1.8zM310.25 774.6h1.8v4.5h-1.8zM315.24 774.6h1.8v0.8h-1.8zM320.24 774.6h1.8v5.8h-1.8zM325.23 772.8h1.8v1.8h-1.8zM330.23 774.6h1.8v21.0h-1.8zM335.22 774.6h1.8v13.0h-1.8zM340.22 774.6h1.8v4.5h-1.8zM345.21 774.6h1.8v18.6h-1.8zM350.21 774.6h1.8v17.7h-1.8zM355.20 774.6h1.8v5.8h-1.8zM360.20 774.6h1.8v6.4h-1.8zM365.19 773.1h1.8v1.5h-1.8zM370.19 774.6h1.8v1.8h-1.8zM375.18 774.6h1.8v8.5h-1.8zM380.18 774.6h1.8v8.5h-1.8zM385.17 774.1h1.8v0.8h-1.8zM390.17 774.6h1.8v9.0h-1.8zM395.16 774.6h1.8v7.0h-1.8zM400.16 774.6h1.8v0.8h-1.8zM405.15 774.6h1.8v1.5h-1.8zM410.15 774.6h1.8v1.5h-1.8zM415.14 774.6h1.8v2.5h-1.8zM420.14 774.6h1.8v0.8h-1.8zM425.13 774.6h1.8v24.6h-1.8zM430.13 749.1h1.8v25.5h-1.8zM435.12 774.6h1.8v1.0h-1.8zM440.12 774.6h1.8v1.0h-1.8zM445.11 774.6h1.8v19.0h-1.8zM450.11 756.4h1.8v18.2h-1.8zM455.10 774.6h1.8v5.8h-1.8zM460.10 769.1h1.8v5.5h-1.8zM465.09 772.6h1.8v2.0h-1.8zM470.09 774.6h1.8v1.5h-1.8zM475.08 773.1h1.8v1.5h-1.8zM480.08 772.6h1.8v2.0h-1.8zM485.07 772.6h1.8v2.0h-1.8zM490.07 772.6h1.8v2.0h-1.8zM495.06 767.9h1.8v6.7h-1.8zM500.06 773.1h1.8v1.5h-1.8zM505.05 768.6h1.8v6.0h-1.8zM510.05 762.4h1.8v12.2h-1.8zM515.04 774.6h1.8v1.5h-1.8zM520.04 766.4h1.8v8.2h-1.8zM525.03 765.9h1.8v8.7h-1.8zM530.03 766.8h1.8v7.8h-1.8zM535.02 774.6h1.8v18.6h-1.8zM540.02 771.0h1.8v3.6h-1.8zM545.01 769.1h1.8v5.5h-1.8zM550.01 774.6h1.8v0.8h-1.8zM555.00 774.6h1.8v2.7h-1.8zM560.00 774.6h1.8v2.0h-1.8zM564.99 774.6h1.8v0.8h-1.8zM569.99 774.6h1.8v7.3h-1.8zM574.98 754.2h1.8v20.4h-1.8zM579.98 768.6h1.8v6.0h-1.8zM584.97 772.6h1.8v2.0h-1.8zM589.97 764.9h1.8v9.7h-1.8zM594.96 763.3h1.8v11.3h-1.8zM599.96 774.6h1.8v12.4h-1.8zM604.95 758.2h1.8v16.4h-1.8zM609.95 759.6h1.8v15.0h-1.8zM614.94 710.8h1.8v63.8h-1.8zM619.94 774.6h1.8v18.6h-1.8zM624.93 750.9h1.8v23.7h-1.8zM629.93 774.6h1.8v26.4h-1.8zM634.92 767.3h1.8v7.3h-1.8zM639.92 774.6h1.8v7.3h-1.8zM644.91 774.6h1.8v0.8h-1.8zM649.91 774.6h1.8v25.9h-1.8zM654.90 748.2h1.8v26.4h-1.8zM659.90 771.6h1.8v3.0h-1.8zM664.89 774.6h1.8v8.2h-1.8zM669.89 741.2h1.8v33.4h-1.8zM674.88 774.6h1.8v36.0h-1.8zM679.88 764.0h1.8v10.6h-1.8zM684.87 752.2h1.8v22.4h-1.8zM689.87 737.6h1.8v37.0h-1.8zM694.86 749.4h1.8v25.2h-1.8zM699.86 774.6h1.8v10.0h-1.8zM704.85 750.9h1.8v23.7h-1.8zM709.85 703.6h1.8v71.0h-1.8zM714.84 774.6h1.8v66.5h-1.8zM719.84 774.6h1.8v15.9h-1.8zM724.83 771.3h1.8v3.3h-1.8zM729.83 774.6h1.8v19.1h-1.8zM734.82 771.0h1.8v3.6h-1.8zM739.82 774.6h1.8v0.8h-1.8zM744.81 772.8h1.8v1.8h-1.8zM749.81 774.6h1.8v1.0h-1.8zM754.80 774.6h1.8v1.0h-1.8zM759.80 774.6h1.8v1.5h-1.8zM764.79 774.6h1.8v0.8h-1.8zM769.79 774.6h1.8v2.5h-1.8zM774.78 772.6h1.8v2.0h-1.8zM779.78 773.6h1.8v1.0h-1.8zM784.77 772.6h1.8v2.0h-1.8zM789.77 774.1h1.8v0.8h-1.8zM794.76 771.6h1.8v3.0h-1.8zM799.76 774.6h1.8v5.5h-1.8zM804.75 774.1h1.8v0.8h-1.8zM809.75 774.1h1.8v0.8h-1.8zM814.74 773.6h1.8v1.0h-1.8zM819.74 764.9h1.8v9.7h-1.8zM824.73 774.6h1.8v15.5h-1.8zM829.73 771.0h1.8v3.6h-1.8zM834.72 774.1h1.8v0.8h-1.8zM839.72 774.6h1.8v4.0h-1.8zM844.71 774.6h1.8v32.8h-1.8zM849.71 745.4h1.8v29.2h-1.8zM854.70 774.6h1.8v1.5h-1.8zM859.70 773.6h1.8v1.0h-1.8zM864.69 772.6h1.8v2.0h-1.8zM869.69 773.6h1.8v1.0h-1.8zM874.68 774.1h1.8v0.8h-1.8zM879.68 774.1h1.8v0.8h-1.8zM884.67 773.9h1.8v0.8h-1.8z" fill="#fbc740"/>
<text x="842.9" y="715.0" font-size="15.6" fill="#1b2c55" text-anchor="start" font-weight="bold" textLength="42.2" lengthAdjust="spacingAndGlyphs" >1.254</text>
<path d="M211.3 739.8C212.0 739.6 213.8 740.1 215.5 738.7C217.2 737.3 219.8 733.2 221.7 731.6C223.5 730.0 224.9 730.4 226.6 729.2C228.3 728.0 230.0 725.4 231.7 724.3C233.4 723.2 235.0 723.0 236.6 722.7C238.3 722.3 240.1 722.6 241.7 722.3C243.4 722.0 245.0 721.9 246.7 721.0C248.3 720.1 250.1 718.1 251.8 717.0C253.4 715.9 255.0 714.9 256.7 714.6C258.3 714.4 260.0 715.1 261.6 715.5C263.3 716.0 264.9 717.2 266.5 717.4C268.2 717.5 270.0 716.7 271.6 716.5C273.3 716.2 274.9 715.8 276.6 715.9C278.2 716.0 279.8 716.5 281.5 717.0C283.2 717.5 284.9 718.0 286.6 718.6C288.3 719.3 289.9 720.4 291.5 721.0C293.1 721.6 294.8 721.9 296.4 722.3C298.1 722.7 299.9 723.0 301.5 723.4C303.2 723.7 304.8 724.1 306.5 724.3C308.1 724.5 309.7 724.5 311.4 724.7C313.0 724.8 314.8 724.9 316.5 725.0C318.1 725.2 319.7 725.5 321.4 725.6C323.1 725.7 324.8 725.1 326.5 725.6C328.2 726.0 329.8 727.5 331.4 728.3C333.1 729.2 334.7 730.1 336.3 730.7C338.0 731.3 339.6 731.3 341.3 732.0C342.9 732.6 344.7 733.8 346.4 734.7C348.0 735.5 349.7 736.5 351.3 737.1C352.9 737.6 354.5 737.7 356.2 738.0C357.9 738.2 359.6 738.6 361.3 738.7C363.0 738.8 364.6 738.3 366.2 738.3C367.9 738.4 369.7 738.6 371.3 738.9C373.0 739.2 374.6 739.8 376.3 740.2C377.9 740.5 379.5 740.8 381.2 741.1C382.9 741.3 384.6 741.4 386.3 741.6C388.0 741.9 389.6 742.3 391.2 742.5C392.9 742.8 394.5 742.9 396.1 743.1C397.8 743.2 399.6 743.2 401.2 743.3C402.9 743.3 404.5 743.3 406.2 743.4C407.8 743.5 409.6 743.7 411.3 743.8C412.9 743.9 414.5 744.1 416.2 744.2C417.8 744.2 419.5 743.7 421.1 744.2C422.7 744.6 424.4 747.1 426.0 747.1C427.7 747.1 429.5 744.7 431.1 744.2C432.8 743.6 434.4 743.9 436.1 743.8C437.7 743.7 439.3 743.4 441.0 743.8C442.6 744.2 444.4 746.0 446.1 746.0C447.8 746.0 449.3 744.0 451.0 743.8C452.7 743.6 454.4 744.6 456.1 744.7C457.8 744.8 459.4 744.3 461.0 744.2C462.7 744.0 464.3 743.9 465.9 743.8C467.6 743.7 469.4 743.8 471.1 743.8C472.7 743.8 474.3 743.7 476.0 743.6C477.6 743.5 479.2 743.4 480.9 743.3C482.6 743.1 484.3 743.0 486.0 742.9C487.7 742.8 489.3 742.7 490.9 742.5C492.6 742.3 494.2 741.8 495.8 741.6C497.5 741.4 499.3 741.7 500.9 741.4C502.6 741.2 504.2 740.5 505.9 740.2C507.5 739.8 509.3 739.4 511.0 739.2C512.6 739.1 514.3 739.5 515.9 739.2C517.5 739.0 519.1 738.4 520.8 738.0C522.5 737.6 524.2 737.2 525.9 736.9C527.6 736.6 529.2 735.8 530.8 736.1C532.5 736.5 534.1 738.5 535.8 738.9C537.4 739.2 539.2 738.5 540.9 738.3C542.5 738.2 544.1 738.0 545.8 738.0C547.5 738.0 549.2 738.2 550.8 738.3C552.5 738.5 554.1 738.6 555.8 738.7C557.4 738.8 559.0 738.8 560.7 738.9C562.3 739.0 564.1 739.0 565.8 739.2C567.5 739.5 569.0 740.5 570.7 740.2C572.4 739.8 574.1 738.1 575.8 737.4C577.5 736.8 579.1 736.5 580.7 736.1C582.4 735.8 584.0 735.6 585.6 735.2C587.3 734.9 589.1 734.5 590.8 734.1C592.4 733.7 594.0 732.8 595.7 732.9C597.3 733.0 599.1 734.7 600.8 734.7C602.4 734.7 604.1 733.6 605.7 732.9C607.3 732.1 609.0 732.2 610.6 730.1C612.3 728.1 614.1 721.7 615.7 720.5C617.4 719.3 619.0 723.0 620.6 722.8C622.3 722.7 624.1 719.6 625.8 719.7C627.4 719.9 629.0 723.1 630.7 723.7C632.3 724.4 633.9 723.4 635.6 723.4C637.3 723.4 639.0 723.6 640.7 723.7C642.4 723.9 643.9 723.5 645.6 724.3C647.3 725.1 649.1 728.2 650.7 728.3C652.4 728.4 654.0 725.3 655.6 724.7C657.3 724.0 658.9 724.2 660.6 724.3C662.2 724.4 664.0 725.8 665.7 725.2C667.3 724.6 669.0 720.3 670.6 720.5C672.2 720.6 673.8 725.3 675.5 725.9C677.2 726.6 678.9 725.1 680.6 724.3C682.3 723.5 683.9 722.6 685.5 721.0C687.2 719.4 689.0 716.3 690.6 714.6C692.3 713.0 693.9 711.4 695.6 711.0C697.2 710.6 698.8 712.9 700.5 712.4C702.2 712.0 703.9 710.9 705.6 708.3C707.3 705.6 708.8 696.4 710.5 696.4C712.2 696.4 713.9 705.8 715.6 708.3C717.3 710.7 718.9 710.8 720.5 711.4C722.2 711.9 723.8 710.9 725.5 711.4C727.1 711.8 728.9 713.9 730.6 714.3C732.2 714.7 733.8 713.8 735.5 713.7C737.2 713.6 738.9 713.6 740.6 713.5C742.3 713.5 743.9 713.4 745.5 713.4C747.2 713.4 748.8 713.5 750.4 713.5C752.1 713.6 753.9 713.7 755.5 713.7C757.2 713.8 758.8 713.8 760.5 713.9C762.1 714.0 763.9 714.0 765.6 714.1C767.2 714.1 768.8 714.3 770.5 714.3C772.1 714.3 773.7 714.1 775.4 714.1C777.1 714.0 778.8 714.0 780.5 713.9C782.2 713.8 783.8 713.8 785.4 713.7C787.1 713.7 788.7 713.7 790.4 713.5C792.0 713.4 793.8 712.8 795.5 712.8C797.1 712.9 798.7 713.7 800.4 713.9C802.0 714.1 803.8 713.9 805.5 713.9C807.2 713.9 808.8 713.9 810.4 713.9C812.0 713.9 813.7 714.0 815.3 713.7C817.0 713.5 818.8 712.2 820.4 712.4C822.1 712.7 823.7 714.7 825.3 715.0C827.0 715.3 828.8 714.4 830.5 714.3C832.1 714.1 833.7 714.0 835.4 714.1C837.0 714.1 838.6 713.8 840.3 714.6C842.0 715.5 843.7 719.0 845.4 719.2C847.1 719.3 848.7 716.2 850.3 715.5C852.0 714.9 853.8 715.3 855.4 715.2C857.1 715.1 858.7 715.1 860.3 715.0C862.0 714.9 863.8 714.8 865.5 714.8C867.1 714.8 868.7 714.8 870.4 714.8C872.0 714.8 873.6 714.7 875.3 714.6C877.0 714.6 878.7 714.6 880.4 714.6C882.1 714.7 884.5 714.9 885.3 715.0" stroke="#0c3380" stroke-width="4.6" fill="none" stroke-linecap="round" stroke-linejoin="round"/>
<text x="826.9" y="771.8" font-size="16.8" fill="#fbc530" text-anchor="start" font-weight="bold" textLength="51.4" lengthAdjust="spacingAndGlyphs" >0.08%</text>
<text transform="translate(216.1 872.0) rotate(-90)" x="-47.5" y="0" font-size="13.0" fill="#363636" textLength="47.5" lengthAdjust="spacingAndGlyphs" stroke="#404040" stroke-width="0.2">2013-06</text>
<text transform="translate(236.1 872.0) rotate(-90)" x="-47.5" y="0" font-size="13.0" fill="#363636" textLength="47.5" lengthAdjust="spacingAndGlyphs" stroke="#404040" stroke-width="0.2">2013-10</text>
<text transform="translate(256.0 872.0) rotate(-90)" x="-47.5" y="0" font-size="13.0" fill="#363636" textLength="47.5" lengthAdjust="spacingAndGlyphs" stroke="#404040" stroke-width="0.2">2014-02</text>
<text transform="translate(276.0 872.0) rotate(-90)" x="-47.5" y="0" font-size="13.0" fill="#363636" textLength="47.5" lengthAdjust="spacingAndGlyphs" stroke="#404040" stroke-width="0.2">2014-06</text>
<text transform="translate(296.0 872.0) rotate(-90)" x="-47.5" y="0" font-size="13.0" fill="#363636" textLength="47.5" lengthAdjust="spacingAndGlyphs" stroke="#404040" stroke-width="0.2">2014-10</text>
<text transform="translate(316.0 872.0) rotate(-90)" x="-47.5" y="0" font-size="13.0" fill="#363636" textLength="47.5" lengthAdjust="spacingAndGlyphs" stroke="#404040" stroke-width="0.2">2015-02</text>
<text transform="translate(335.9 872.0) rotate(-90)" x="-47.5" y="0" font-size="13.0" fill="#363636" textLength="47.5" lengthAdjust="spacingAndGlyphs" stroke="#404040" stroke-width="0.2">2015-06</text>
<text transform="translate(355.9 872.0) rotate(-90)" x="-47.5" y="0" font-size="13.0" fill="#363636" textLength="47.5" lengthAdjust="spacingAndGlyphs" stroke="#404040" stroke-width="0.2">2015-10</text>
<text transform="translate(375.9 872.0) rotate(-90)" x="-47.5" y="0" font-size="13.0" fill="#363636" textLength="47.5" lengthAdjust="spacingAndGlyphs" stroke="#404040" stroke-width="0.2">2016-02</text>
<text transform="translate(395.8 872.0) rotate(-90)" x="-47.5" y="0" font-size="13.0" fill="#363636" textLength="47.5" lengthAdjust="spacingAndGlyphs" stroke="#404040" stroke-width="0.2">2016-06</text>
<text transform="translate(415.8 872.0) rotate(-90)" x="-47.5" y="0" font-size="13.0" fill="#363636" textLength="47.5" lengthAdjust="spacingAndGlyphs" stroke="#404040" stroke-width="0.2">2016-10</text>
<text transform="translate(435.8 872.0) rotate(-90)" x="-47.5" y="0" font-size="13.0" fill="#363636" textLength="47.5" lengthAdjust="spacingAndGlyphs" stroke="#404040" stroke-width="0.2">2017-02</text>
<text transform="translate(455.7 872.0) rotate(-90)" x="-47.5" y="0" font-size="13.0" fill="#363636" textLength="47.5" lengthAdjust="spacingAndGlyphs" stroke="#404040" stroke-width="0.2">2017-06</text>
<text transform="translate(475.7 872.0) rotate(-90)" x="-47.5" y="0" font-size="13.0" fill="#363636" textLength="47.5" lengthAdjust="spacingAndGlyphs" stroke="#404040" stroke-width="0.2">2017-10</text>
<text transform="translate(495.7 872.0) rotate(-90)" x="-47.5" y="0" font-size="13.0" fill="#363636" textLength="47.5" lengthAdjust="spacingAndGlyphs" stroke="#404040" stroke-width="0.2">2018-02</text>
<text transform="translate(515.6 872.0) rotate(-90)" x="-47.5" y="0" font-size="13.0" fill="#363636" textLength="47.5" lengthAdjust="spacingAndGlyphs" stroke="#404040" stroke-width="0.2">2018-06</text>
<text transform="translate(535.6 872.0) rotate(-90)" x="-47.5" y="0" font-size="13.0" fill="#363636" textLength="47.5" lengthAdjust="spacingAndGlyphs" stroke="#404040" stroke-width="0.2">2018-10</text>
<text transform="translate(555.6 872.0) rotate(-90)" x="-47.5" y="0" font-size="13.0" fill="#363636" textLength="47.5" lengthAdjust="spacingAndGlyphs" stroke="#404040" stroke-width="0.2">2019-02</text>
<text transform="translate(575.6 872.0) rotate(-90)" x="-47.5" y="0" font-size="13.0" fill="#363636" textLength="47.5" lengthAdjust="spacingAndGlyphs" stroke="#404040" stroke-width="0.2">2019-06</text>
<text transform="translate(595.5 872.0) rotate(-90)" x="-47.5" y="0" font-size="13.0" fill="#363636" textLength="47.5" lengthAdjust="spacingAndGlyphs" stroke="#404040" stroke-width="0.2">2019-10</text>
<text transform="translate(615.5 872.0) rotate(-90)" x="-47.5" y="0" font-size="13.0" fill="#363636" textLength="47.5" lengthAdjust="spacingAndGlyphs" stroke="#404040" stroke-width="0.2">2020-02</text>
<text transform="translate(635.5 872.0) rotate(-90)" x="-47.5" y="0" font-size="13.0" fill="#363636" textLength="47.5" lengthAdjust="spacingAndGlyphs" stroke="#404040" stroke-width="0.2">2020-06</text>
<text transform="translate(655.4 872.0) rotate(-90)" x="-47.5" y="0" font-size="13.0" fill="#363636" textLength="47.5" lengthAdjust="spacingAndGlyphs" stroke="#404040" stroke-width="0.2">2020-10</text>
<text transform="translate(675.4 872.0) rotate(-90)" x="-47.5" y="0" font-size="13.0" fill="#363636" textLength="47.5" lengthAdjust="spacingAndGlyphs" stroke="#404040" stroke-width="0.2">2021-02</text>
<text transform="translate(695.4 872.0) rotate(-90)" x="-47.5" y="0" font-size="13.0" fill="#363636" textLength="47.5" lengthAdjust="spacingAndGlyphs" stroke="#404040" stroke-width="0.2">2021-06</text>
<text transform="translate(715.4 872.0) rotate(-90)" x="-47.5" y="0" font-size="13.0" fill="#363636" textLength="47.5" lengthAdjust="spacingAndGlyphs" stroke="#404040" stroke-width="0.2">2021-10</text>
<text transform="translate(735.3 872.0) rotate(-90)" x="-47.5" y="0" font-size="13.0" fill="#363636" textLength="47.5" lengthAdjust="spacingAndGlyphs" stroke="#404040" stroke-width="0.2">2022-02</text>
<text transform="translate(755.3 872.0) rotate(-90)" x="-47.5" y="0" font-size="13.0" fill="#363636" textLength="47.5" lengthAdjust="spacingAndGlyphs" stroke="#404040" stroke-width="0.2">2022-06</text>
<text transform="translate(775.3 872.0) rotate(-90)" x="-47.5" y="0" font-size="13.0" fill="#363636" textLength="47.5" lengthAdjust="spacingAndGlyphs" stroke="#404040" stroke-width="0.2">2022-10</text>
<text transform="translate(795.2 872.0) rotate(-90)" x="-47.5" y="0" font-size="13.0" fill="#363636" textLength="47.5" lengthAdjust="spacingAndGlyphs" stroke="#404040" stroke-width="0.2">2023-02</text>
<text transform="translate(815.2 872.0) rotate(-90)" x="-47.5" y="0" font-size="13.0" fill="#363636" textLength="47.5" lengthAdjust="spacingAndGlyphs" stroke="#404040" stroke-width="0.2">2023-06</text>
<text transform="translate(835.2 872.0) rotate(-90)" x="-47.5" y="0" font-size="13.0" fill="#363636" textLength="47.5" lengthAdjust="spacingAndGlyphs" stroke="#404040" stroke-width="0.2">2023-10</text>
<text transform="translate(855.1 872.0) rotate(-90)" x="-47.5" y="0" font-size="13.0" fill="#363636" textLength="47.5" lengthAdjust="spacingAndGlyphs" stroke="#404040" stroke-width="0.2">2024-02</text>
<text transform="translate(875.1 872.0) rotate(-90)" x="-47.5" y="0" font-size="13.0" fill="#363636" textLength="47.5" lengthAdjust="spacingAndGlyphs" stroke="#404040" stroke-width="0.2">2024-06</text>
<rect x="325.7" y="933.6" width="40.3" height="10" fill="#fbc740"/>
<path d="M325 957.6H368" stroke="#0c3380" stroke-width="4.2" stroke-linecap="round"/>
<text x="370.5" y="943.9" font-size="16.3" fill="#363636" text-anchor="start" textLength="318.0" lengthAdjust="spacingAndGlyphs" >Сарын өөрчлөлт, % Monthly changes</text>
<text x="370.5" y="962.6" font-size="16.3" fill="#363636" text-anchor="start" textLength="429.0" lengthAdjust="spacingAndGlyphs" >Орон сууцны үнийн ерөнхий индекс General HPI</text>
<text x="1171.5" y="678.4" font-size="17.6" fill="#10307c" text-anchor="start" font-weight="bold" font-family='"DejaVu Sans", "Liberation Sans", sans-serif' textLength="470.0" lengthAdjust="spacingAndGlyphs" stroke="#10307c" stroke-width="0.35">Орон сууц худалдан авах боломжийн индекс</text>
<text x="1035.4" y="861.7" font-size="13.9" fill="#363636" text-anchor="start" textLength="21.6" lengthAdjust="spacingAndGlyphs" >0.3</text>
<text x="1035.4" y="835.7" font-size="13.9" fill="#363636" text-anchor="start" textLength="21.6" lengthAdjust="spacingAndGlyphs" >0.5</text>
<text x="1035.4" y="809.8" font-size="13.9" fill="#363636" text-anchor="start" textLength="21.6" lengthAdjust="spacingAndGlyphs" >0.7</text>
<text x="1035.4" y="783.8" font-size="13.9" fill="#363636" text-anchor="start" textLength="21.6" lengthAdjust="spacingAndGlyphs" >0.9</text>
<text x="1039.6" y="757.9" font-size="13.9" fill="#363636" text-anchor="start" textLength="17.4" lengthAdjust="spacingAndGlyphs" >1.1</text>
<text x="1037.9" y="731.9" font-size="13.9" fill="#363636" text-anchor="start" textLength="19.1" lengthAdjust="spacingAndGlyphs" >1.3</text>
<text x="1037.9" y="705.9" font-size="13.9" fill="#363636" text-anchor="start" textLength="19.1" lengthAdjust="spacingAndGlyphs" >1.5</text>
<text x="1037.9" y="680.0" font-size="13.9" fill="#363636" text-anchor="start" textLength="19.1" lengthAdjust="spacingAndGlyphs" >1.7</text>
<path d="M1071.7 857.3H1789.2" stroke="#d9d9d9" stroke-width="1.6"/>
<path d="M1071.7 857.3v4.5M1136.9 857.3v4.5M1202.2 857.3v4.5M1267.4 857.3v4.5M1332.6 857.3v4.5M1397.9 857.3v4.5M1463.1 857.3v4.5M1528.3 857.3v4.5M1593.5 857.3v4.5M1658.8 857.3v4.5M1724.0 857.3v4.5M1789.2 857.3v4.5" stroke="#d9d9d9" stroke-width="1.4" fill="none"/>
<path d="M1104.4 840.2C1110.1 839.8 1126.4 838.6 1138.9 837.5C1151.3 836.5 1167.2 835.3 1179.2 833.9C1191.1 832.6 1200.8 830.5 1210.5 829.5C1220.2 828.4 1228.4 827.7 1237.4 827.7C1246.3 827.6 1255.3 828.3 1264.3 829.0C1273.2 829.8 1282.9 831.9 1291.1 832.2C1299.4 832.4 1303.8 832.2 1313.5 830.4C1323.2 828.6 1337.4 824.2 1349.4 821.4C1361.3 818.6 1373.3 816.3 1385.2 813.8C1397.1 811.3 1411.3 808.0 1421.0 806.6C1430.7 805.3 1431.5 805.6 1443.4 805.7C1455.4 805.9 1478.5 807.4 1492.7 807.5C1506.9 807.7 1517.3 807.0 1528.5 806.6C1539.7 806.2 1548.7 805.1 1559.9 805.3C1571.1 805.4 1584.5 806.7 1595.7 807.5C1606.9 808.3 1616.6 809.3 1627.1 810.2C1637.5 811.1 1648.7 812.1 1658.4 812.9C1668.1 813.6 1676.3 814.8 1685.3 814.7C1694.3 814.6 1703.2 813.9 1712.2 812.4C1721.1 811.0 1731.6 807.5 1739.0 805.7C1746.5 803.9 1754.0 802.4 1757.0 801.7" stroke="#5ab031" stroke-width="2.1" fill="none"/>
<path d="M1104.4 816.0C1110.1 815.2 1127.1 812.8 1138.9 811.1C1150.6 809.4 1164.2 807.5 1174.7 805.7C1185.1 803.9 1191.9 802.1 1201.6 800.4C1211.3 798.6 1224.0 795.2 1232.9 795.0C1241.9 794.8 1246.3 796.6 1255.3 799.0C1264.3 801.4 1275.5 807.4 1286.7 809.3C1297.9 811.2 1310.5 810.7 1322.5 810.2C1334.4 809.8 1347.1 808.9 1358.3 806.6C1369.5 804.4 1379.2 800.1 1389.7 796.8C1400.1 793.5 1412.1 788.9 1421.0 786.9C1430.0 784.9 1434.5 784.9 1443.4 784.7C1452.4 784.5 1465.1 785.9 1474.8 785.6C1484.5 785.2 1492.7 784.7 1501.7 782.4C1510.6 780.2 1518.8 775.5 1528.5 772.1C1538.2 768.8 1548.7 763.0 1559.9 762.3C1571.1 761.5 1583.8 765.1 1595.7 767.7C1607.7 770.2 1620.4 773.4 1631.6 777.5C1642.7 781.6 1653.2 788.6 1662.9 792.3C1672.6 795.9 1680.8 799.1 1689.8 799.5C1698.7 799.8 1708.4 797.8 1716.7 794.5C1724.9 791.2 1732.3 784.0 1739.0 779.7C1745.8 775.5 1754.0 770.8 1757.0 769.0" stroke="#fbc02d" stroke-width="2.1" fill="none"/>
<path d="M1104.4 797.7C1109.4 797.4 1123.0 796.8 1134.4 795.9C1145.7 795.0 1161.2 794.0 1172.4 792.3C1183.6 790.6 1191.5 787.8 1201.6 785.6C1211.6 783.3 1221.7 780.0 1232.9 778.9C1244.1 777.7 1256.8 778.8 1268.7 778.4C1280.7 778.0 1292.6 778.0 1304.6 776.6C1316.5 775.2 1328.5 772.4 1340.4 769.9C1352.4 767.4 1365.8 764.4 1376.2 761.8C1386.7 759.2 1393.0 756.8 1403.1 754.2C1413.2 751.6 1425.5 747.6 1436.7 746.2C1447.9 744.7 1459.5 745.8 1470.3 745.3C1481.1 744.7 1491.2 744.7 1501.7 743.0C1512.1 741.3 1523.3 737.3 1533.0 735.0C1542.7 732.6 1550.9 729.0 1559.9 728.7C1568.8 728.4 1576.3 730.9 1586.8 733.2C1597.2 735.4 1612.1 741.6 1622.6 742.1C1633.0 742.6 1639.0 739.5 1649.5 736.3C1659.9 733.1 1673.4 727.3 1685.3 722.9C1697.2 718.4 1709.2 714.0 1721.1 709.4C1733.1 704.9 1751.0 697.9 1757.0 695.5" stroke="#1a3f8f" stroke-width="2.1" fill="none"/>
<rect x="1754.0" y="692.5" width="6" height="6" fill="#fff" stroke="#1a3f8f" stroke-width="1.3"/>
<rect x="1754.0" y="766.0" width="6" height="6" fill="#fff" stroke="#fbc02d" stroke-width="1.3"/>
<rect x="1754.0" y="798.7" width="6" height="6" fill="#fff" stroke="#5ab031" stroke-width="1.3"/>
<text x="1739.8" y="679.2" font-size="16.2" fill="#14306e" text-anchor="start" font-weight="bold" textLength="34.1" lengthAdjust="spacingAndGlyphs" >1.54</text>
<text x="1739.2" y="752.6" font-size="17.4" fill="#fbc530" text-anchor="start" font-weight="bold" textLength="36.6" lengthAdjust="spacingAndGlyphs" >0.98</text>
<text x="1772.5" y="827.4" font-size="17.4" fill="#6cb53f" text-anchor="start" font-weight="bold" textLength="36.6" lengthAdjust="spacingAndGlyphs" >0.73</text>
<text transform="translate(1108.6 889.5) rotate(-90)" x="-23.9" y="0" font-size="11.8" fill="#4d4d4d" textLength="47.8" lengthAdjust="spacingAndGlyphs" >2014.09</text>
<path d="M1086.4 946.8H1127.7" stroke="#fbc02d" stroke-width="1.6"/>
<path d="M1332.3 946.8H1372.7" stroke="#1a3f8f" stroke-width="1.6"/>
<path d="M1524 946.8H1565.3" stroke="#5ab031" stroke-width="1.6"/>
<text x="1132.0" y="951.0" font-size="11.5" fill="#363636" text-anchor="start" textLength="116.5" lengthAdjust="spacingAndGlyphs" >Ерөнхий ОСХАБИ</text>
<text x="1377.6" y="951.0" font-size="11.5" fill="#363636" text-anchor="start" textLength="63.5" lengthAdjust="spacingAndGlyphs" >Хөтөлбөр</text>
<text x="1568.8" y="951.0" font-size="11.5" fill="#363636" text-anchor="start" textLength="169.0" lengthAdjust="spacingAndGlyphs" >Банкны өөрийн эх үүсвэр</text>
</g>
<defs>
<linearGradient id="scr" x1="0" y1="0.1" x2="1" y2="0.3"><stop offset="0" stop-color="#4068f0"/><stop offset="0.06" stop-color="#3d7cf3"/><stop offset="0.2" stop-color="#459ef5"/><stop offset="0.4" stop-color="#58bdf3"/><stop offset="0.55" stop-color="#68d2de"/><stop offset="0.7" stop-color="#7adfc0"/><stop offset="0.85" stop-color="#8be8a6"/><stop offset="1" stop-color="#84e394"/></linearGradient>
<linearGradient id="scrv" x1="0" y1="0" x2="0" y2="1"><stop offset="0" stop-color="#2a4fe0" stop-opacity="0.12"/><stop offset="0.3" stop-color="#2a60e0" stop-opacity="0.04"/><stop offset="1" stop-color="#fff" stop-opacity="0.14"/></linearGradient>
<radialGradient id="glow" cx="0" cy="1" r="1"><stop offset="0" stop-color="#fff" stop-opacity="0.95"/><stop offset="0.25" stop-color="#fff" stop-opacity="0.45"/><stop offset="1" stop-color="#fff" stop-opacity="0"/></radialGradient>
<linearGradient id="wallL" x1="0" y1="0" x2="1" y2="0"><stop offset="0" stop-color="#bdbcc2"/><stop offset="1" stop-color="#b0aeb3"/></linearGradient>
<linearGradient id="tbl" x1="0" y1="0" x2="1" y2="0"><stop offset="0" stop-color="#6d554b"/><stop offset="0.55" stop-color="#5c463e"/><stop offset="0.8" stop-color="#7d5f4c"/><stop offset="1" stop-color="#8e6d55"/></linearGradient>
<linearGradient id="suit" x1="0" y1="0" x2="1" y2="0"><stop offset="0" stop-color="#474b54"/><stop offset="0.5" stop-color="#555963"/><stop offset="1" stop-color="#4a4e57"/></linearGradient>
<clipPath id="vclip"><rect x="1513.6" y="50.3" width="345.6" height="227.2"/></clipPath>
<filter id="vb" x="-2%" y="-2%" width="104%" height="104%"><feGaussianBlur stdDeviation="0.95" result="b"/><feComposite in="b" in2="SourceGraphic" operator="arithmetic" k1="0" k2="0.65" k3="0.35" k4="0"/></filter>
<filter id="vb2"><feGaussianBlur stdDeviation="1.6"/></filter>
</defs>
<rect x="1483.8" y="20.9" width="407.1" height="256.6" fill="#000"/>
<g clip-path="url(#vclip)"><g filter="url(#vb)">
<rect x="1510" y="48" width="352" height="232" fill="url(#wallL)"/>
<rect x="1817" y="48" width="45" height="232" fill="#968d8f"/>
<rect x="1640" y="200" width="180" height="70" fill="#a39c9f"/>
<rect x="1512" y="49" width="40" height="89" fill="#2b2c30"/>
<rect x="1513" y="54.8" width="15" height="22" fill="#a9a9ae"/><rect x="1529.5" y="54.8" width="21.5" height="23.5" fill="#b6b6bc"/>
<rect x="1513" y="84" width="13.5" height="7" fill="#8e8e93"/><rect x="1530" y="78.3" width="21" height="12.5" fill="#9d9da3"/>
<rect x="1513" y="94" width="12.6" height="36" fill="#b3b3b8"/><rect x="1530.5" y="94" width="20.5" height="36" fill="#b0b0b6"/>
<rect x="1531" y="113" width="20" height="4.5" fill="#4c6a64"/><rect x="1531" y="117.5" width="20" height="3.5" fill="#2d3034"/>
<rect x="1851.8" y="48" width="9" height="157" fill="#2e2c2e"/><rect x="1846" y="204" width="14" height="2.6" fill="#2a282a"/>
<rect x="1849" y="232" width="8" height="14" rx="2" fill="#a9a2a5"/>
<path d="M1549.4 48H1818.2V204.2H1600L1550.4 198.4Z" fill="#1b1c1f"/>
<rect x="1631" y="203" width="18" height="15.5" fill="#1e1f22"/>
<rect x="1555.6" y="50.3" width="258" height="146.2" fill="#f2f8fb"/>
<rect x="1559.6" y="53.8" width="250.6" height="138.4" fill="url(#scr)"/>
<rect x="1559.6" y="53.8" width="250.6" height="138.4" fill="url(#scrv)"/>
<rect x="1559.6" y="132" width="60" height="60.2" fill="url(#glow)"/>
<rect x="1550.5" y="199.2" width="16" height="2.6" fill="#e8e8ea"/>
<g fill="none" stroke="#eef3c8" stroke-width="0.9"><rect x="1583.6" y="74.2" width="12" height="9.6"/><rect x="1596.6" y="74.2" width="11" height="9.6"/><rect x="1608.6" y="74.2" width="11.6" height="9.6"/><path d="M1583.6 74.2l6-5 6 5M1596.6 74.2l5.5-5 5.5 5M1608.6 74.2l5.8-5 5.8 5" stroke="#b9e6c4"/></g>
<text x="1583.6" y="82.6" font-size="9" fill="#f4f6ff" text-anchor="start" font-weight="bold" textLength="36.0" lengthAdjust="spacingAndGlyphs" >М И К</text>
<text x="1583.4" y="91.2" font-size="7" fill="#f4f6ff" text-anchor="start" font-weight="bold" textLength="37.0" lengthAdjust="spacingAndGlyphs" >ХОЛДИНГ</text>
<rect x="1583.4" y="92.4" width="37" height="1.6" fill="#d6ee9c"/>
<g fill="none" stroke="#e6ef7a" stroke-width="0.9"><rect x="1717.2" y="73.4" width="11.6" height="9.6"/><rect x="1730" y="73.4" width="11" height="9.6"/><rect x="1742.2" y="73.4" width="11" height="9.6"/><path d="M1717.2 73.4l5.8-4.6 5.8 4.6M1730 73.4l5.5-4.6 5.5 4.6M1742.2 73.4l5.5-4.6 5.5 4.6" stroke="#bff0a8"/></g>
<text x="1718.6" y="81.8" font-size="8.6" fill="#f4fff0" text-anchor="start" font-weight="bold" textLength="34.0" lengthAdjust="spacingAndGlyphs" >М И К</text>
<g fill="#e9fbe2" opacity="0.85"><rect x="1756" y="72.6" width="22" height="1.6"/><rect x="1756" y="75.4" width="26" height="1.6"/><rect x="1756" y="78.2" width="37" height="1.6"/><rect x="1756" y="81.6" width="38" height="1.2"/></g>
<circle cx="1807" cy="63.3" r="3.8" fill="#5d87ee" stroke="#dfe9ff" stroke-width="0.7"/>
<text x="1685.3" y="115.4" font-size="6.2" fill="#f4f8ff" text-anchor="middle" font-weight="bold" textLength="64.0" lengthAdjust="spacingAndGlyphs" >МИК ХОЛДИНГ ХК</text>
<text x="1685.3" y="123.4" font-size="6.2" fill="#f1ee7a" text-anchor="middle" font-weight="bold" textLength="144.0" lengthAdjust="spacingAndGlyphs" >2024 ОНЫ ҮЙЛ АЖИЛЛАГААНЫ ТАЙЛАН</text>
<rect x="1615" y="180.2" width="52" height="0.9" fill="#cfeefa" opacity="0.8"/>
<g fill="#e6fbe8" opacity="0.8"><rect x="1767" y="179.6" width="31" height="1.3"/><rect x="1785" y="183.2" width="13" height="1.3"/></g>
<rect x="1599.9" y="231.4" width="24" height="31.5" fill="#c6c5ca"/><path d="M1603 233v29M1606.6 233v29M1610.2 233v29M1613.8 233v29M1617.4 233v29M1621 233v29" stroke="#aeadb3" stroke-width="1"/>
<rect x="1510" y="261.9" width="352" height="18" fill="url(#tbl)"/>
<path d="M1790 264.4H1862V280H1790Z" fill="#8a6a52"/>
<rect x="1539" y="239.8" width="23.4" height="40" fill="#c7c7cc"/><path d="M1541 243l19 6M1541 249l19 6M1541 255l19 6M1541 261l19 6M1541 267l19 6M1560 243l-19 6M1560 249l-19 6M1560 255l-19 6M1560 261l-19 6M1560 267l-19 6" stroke="#eeeef2" stroke-width="1.2" fill="none"/><rect x="1539" y="239.8" width="2" height="40" fill="#e9e9ee"/><rect x="1560.4" y="239.8" width="2" height="40" fill="#e0e0e6"/>
<ellipse cx="1592.8" cy="275.6" rx="17.6" ry="5.4" fill="#d9d2cb"/><ellipse cx="1592.8" cy="276.8" rx="14" ry="3.6" fill="#c4bbb2"/>
<path d="M1692 171C1680 174 1664 180 1655 185C1646 190 1640 200 1634 214C1628 228 1618 240 1614 248C1612 254 1613 260 1618 264L1640 270V280H1800L1797 262C1792 246 1786 232 1780 224C1774 212 1768 200 1760 193C1750 185 1738 179 1727 174Z" fill="url(#suit)"/>
<path d="M1656 186C1648 200 1643 222 1641 246" stroke="#3b3f47" stroke-width="1.5" fill="none" opacity="0.8"/>
<path d="M1727 174C1740 180 1752 186 1760 193C1768 200 1774 212 1780 224L1770 224C1762 206 1750 190 1727 180Z" fill="#60656f" opacity="0.6"/>
<path d="M1693.5 172L1725.5 172L1725 225H1694Z" fill="#d6d2e0"/>
<path d="M1692.5 171L1695 178L1695.5 225H1688C1684 206 1685 188 1692.5 171Z" fill="#3c4048"/>
<path d="M1726.5 173L1724.4 180L1724.6 225H1742C1740 204 1735 186 1726.5 173Z" fill="#484c55"/>
<path d="M1704 190H1716.2L1714.6 197L1717.2 225H1705.4L1706.6 197Z" fill="#2c3136"/>
<path d="M1696 175L1704 190L1700 194ZM1724 175L1716 190L1720.5 194Z" fill="#c4bfd0"/>
<path d="M1697 166H1724L1722 182C1716 190 1706 190 1699 182Z" fill="#b4856d"/>
<path d="M1690.6 140C1690 150 1691.4 160 1693.6 167C1696.4 175 1703 182 1712 186C1721 182 1728 175 1730.6 167C1733 160 1734 150 1733.4 140C1730 130 1722 128 1712 128C1702 128 1694 130 1690.6 140Z" fill="#c9997f"/>
<ellipse cx="1689.6" cy="156" rx="2.2" ry="5.4" fill="#b98a72"/><ellipse cx="1734.6" cy="156" rx="2.2" ry="5.4" fill="#b98a72"/>
<path d="M1687.6 152C1685.6 130 1696 116.7 1712.4 116.7C1729 116.7 1739 130 1736.8 152L1734.4 152C1735 144 1733.4 139 1729 135.4C1722 132.6 1703 132.6 1696 135.4C1691.4 139 1690 144 1690.4 152Z" fill="#17171a"/>
<g stroke="#33241f" stroke-width="1.5" fill="none" opacity="0.85"><path d="M1696.5 150.4q5.4-2 10.4 0.2M1717 150.6q5-2.2 10.4-0.2"/></g>
<g stroke="#2a1d1a" stroke-width="1.3" fill="none" opacity="0.75"><path d="M1698.6 155q3.6 1.2 7.2 0M1718.6 155q3.6 1.2 7.2 0"/></g>
<g stroke="#7a5242" stroke-width="1.2" fill="none" opacity="0.75"><path d="M1705.6 172.6q6.4 1.4 12.8 0M1709.2 164.4q2.8 1.4 5.6 0"/></g>
<path d="M1700 176C1704 181 1720 181 1724 176C1722 182 1716 185.6 1712 185.6C1708 185.6 1702 182 1700 176Z" fill="#a87c66" opacity="0.7"/>
<path d="M1632.5 252L1647 248.5L1651 270L1638.5 273.5Z" fill="#d5d2dc"/>
<path d="M1643 250C1650 246 1660 247 1667 252V273H1650C1644 268 1641 258 1643 250Z" fill="#c4957c"/>
<path d="M1665.8 224.6L1797 225L1793 280H1665.8Z" fill="#0f0f13"/>
<path d="M1794 256C1804 252 1814 258 1822 266C1828 272 1832 276 1836 280H1793Z" fill="#c4957c"/>
<path d="M1796 250l13 3-2 9-12-3z" fill="#32312f"/><circle cx="1805" cy="256" r="3.4" fill="#c9c9cc"/>
</g></g>
</svg></body></html>
